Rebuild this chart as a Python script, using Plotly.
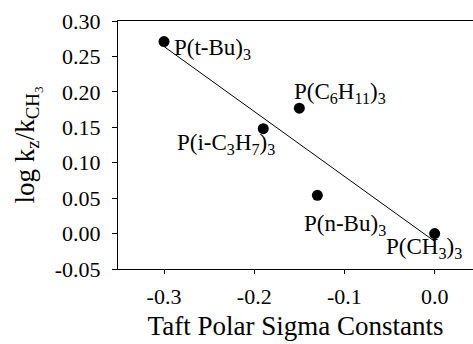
import plotly.graph_objects as go

# Taft polar sigma constants and relative rate constants for each phosphine
ligands = ["P(t-Bu)<sub>3</sub>", "P(C<sub>6</sub>H<sub>11</sub>)<sub>3</sub>",
           "P(i-C<sub>3</sub>H<sub>7</sub>)<sub>3</sub>", "P(n-Bu)<sub>3</sub>",
           "P(CH<sub>3</sub>)<sub>3</sub>"]
sigma = [-0.30, -0.15, -0.19, -0.13, 0.00]
log_k = [0.271, 0.177, 0.148, 0.054, 0.000]

# least-squares fit line endpoints
fit_x = [-0.30, 0.00]
fit_y = [0.264, -0.011]

# label offsets (px) and anchors per ligand
label_dx = [8, -7, 14, -15, 29]
label_dy = [-7, 15, -15, -30, -14]
label_anchor = ["left", "left", "right", "left", "right"]

x_ticks = [-0.3, -0.2, -0.1, 0.0]
y_ticks = [-0.05, 0.00, 0.05, 0.10, 0.15, 0.20, 0.25, 0.30]

font = "Liberation Serif"

fig = go.Figure()
fig.add_trace(go.Scatter(x=fit_x, y=fit_y, mode="lines",
                         line=dict(color="black", width=1), showlegend=False))
fig.add_trace(go.Scatter(x=sigma, y=log_k, mode="markers",
                         marker=dict(color="black", size=11), showlegend=False))

for name, xv, yv, dx, dy, anc in zip(ligands, sigma, log_k, label_dx, label_dy, label_anchor):
    fig.add_annotation(x=xv, y=yv, text=name, showarrow=False, xanchor=anc,
                       yanchor="middle", xshift=dx, yshift=dy,
                       font=dict(family=font, size=23, color="black"))

fig.update_layout(
    width=473, height=344,
    margin=dict(l=118, r=0, t=21, b=75),
    plot_bgcolor="white", paper_bgcolor="white",
    font=dict(family=font, color="black", size=21),
    xaxis=dict(range=[-0.351, 0.0425], tickvals=x_ticks,
               ticktext=[f"{v:.1f}" for v in x_ticks],
               showline=True, linecolor="black", linewidth=1, mirror=True,
               ticks="outside", ticklen=4, tickcolor="black",
               ticklabelstandoff=4,
               showgrid=False, zeroline=False,
               tickfont=dict(family=font, size=22, color="black"),
               title=dict(text="Taft Polar Sigma Constants",
                          font=dict(family=font, size=27, color="black"), standoff=7)),
    yaxis=dict(range=[-0.05, 0.30], tickvals=y_ticks,
               ticktext=[f"{v:.2f}" for v in y_ticks],
               showline=True, linecolor="black", linewidth=1,
               ticks="outside", ticklen=5, tickcolor="black",
               ticklabelstandoff=7,
               showgrid=False, zeroline=False,
               tickfont=dict(family=font, size=22, color="black"),
               title=dict(text="log k<sub>z</sub>/k<sub>CH<sub>3</sub></sub>",
                          font=dict(family=font, size=27, color="black"), standoff=12)),
)

fig.write_html("out.html")
